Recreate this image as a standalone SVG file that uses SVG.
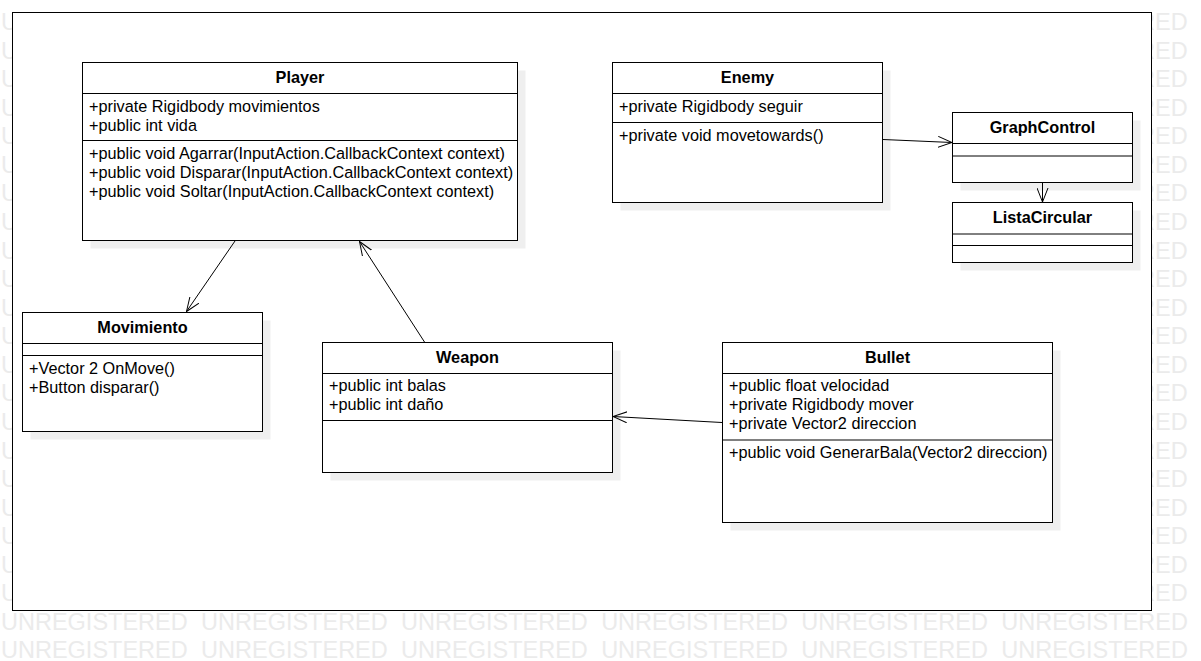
<svg xmlns="http://www.w3.org/2000/svg" width="1201" height="661" viewBox="0 0 1201 661">
<defs>
<style>
.wm{font-family:"Liberation Sans",Arial,sans-serif;font-size:23.5px;fill:#ebebeb;word-spacing:6.8px}
.box{fill:#ffffff;stroke:#000000;stroke-width:1}
.sh{fill:#efefef;stroke:none}
.ln{stroke:#000000;stroke-width:1;fill:none}
.t{font-family:"Liberation Sans",Arial,sans-serif;font-size:16.25px;fill:#000000}
.h{font-family:"Liberation Sans",Arial,sans-serif;font-size:16.25px;font-weight:bold;fill:#000000;text-anchor:middle}
</style>
<marker id="arr" viewBox="0 0 14 12" refX="14" refY="6" markerWidth="14" markerHeight="12" markerUnits="userSpaceOnUse" orient="auto">
<path d="M0,0.5 L14,6 L0,11.5" fill="none" stroke="#000000" stroke-width="1"/>
</marker>
</defs>
<rect x="0" y="0" width="1201" height="661" fill="#ffffff"/>
<g id="watermark">
<text class="wm" x="1" y="30">U</text><text class="wm" x="1138.1" y="30">RED</text>
<text class="wm" x="1" y="58.6">U</text><text class="wm" x="1138.1" y="58.6">RED</text>
<text class="wm" x="1" y="87.1">U</text><text class="wm" x="1138.1" y="87.1">RED</text>
<text class="wm" x="1" y="115.7">U</text><text class="wm" x="1138.1" y="115.7">RED</text>
<text class="wm" x="1" y="144.3">U</text><text class="wm" x="1138.1" y="144.3">RED</text>
<text class="wm" x="1" y="172.9">U</text><text class="wm" x="1138.1" y="172.9">RED</text>
<text class="wm" x="1" y="201.4">U</text><text class="wm" x="1138.1" y="201.4">RED</text>
<text class="wm" x="1" y="230">U</text><text class="wm" x="1138.1" y="230">RED</text>
<text class="wm" x="1" y="258.6">U</text><text class="wm" x="1138.1" y="258.6">RED</text>
<text class="wm" x="1" y="287.1">U</text><text class="wm" x="1138.1" y="287.1">RED</text>
<text class="wm" x="1" y="315.7">U</text><text class="wm" x="1138.1" y="315.7">RED</text>
<text class="wm" x="1" y="344.3">U</text><text class="wm" x="1138.1" y="344.3">RED</text>
<text class="wm" x="1" y="372.9">U</text><text class="wm" x="1138.1" y="372.9">RED</text>
<text class="wm" x="1" y="401.4">U</text><text class="wm" x="1138.1" y="401.4">RED</text>
<text class="wm" x="1" y="430">U</text><text class="wm" x="1138.1" y="430">RED</text>
<text class="wm" x="1" y="458.6">U</text><text class="wm" x="1138.1" y="458.6">RED</text>
<text class="wm" x="1" y="487.1">U</text><text class="wm" x="1138.1" y="487.1">RED</text>
<text class="wm" x="1" y="515.7">U</text><text class="wm" x="1138.1" y="515.7">RED</text>
<text class="wm" x="1" y="544.3">U</text><text class="wm" x="1138.1" y="544.3">RED</text>
<text class="wm" x="1" y="572.9">U</text><text class="wm" x="1138.1" y="572.9">RED</text>
<text class="wm" x="1" y="601.4">U</text><text class="wm" x="1138.1" y="601.4">RED</text>
<text class="wm" x="1" y="630">UNREGISTERED UNREGISTERED UNREGISTERED UNREGISTERED UNREGISTERED UNREGISTERED</text>
<text class="wm" x="1" y="658">UNREGISTERED UNREGISTERED UNREGISTERED UNREGISTERED UNREGISTERED UNREGISTERED</text>
</g>
<rect id="frame" x="12.5" y="12.5" width="1139" height="598" class="box"/>
<g id="Player">
<rect class="sh" x="90.5" y="70.5" width="435" height="178"/>
<rect class="box" x="82.5" y="62.5" width="435" height="178"/>
<line class="ln" x1="82.5" y1="93.5" x2="517.5" y2="93.5"/>
<line class="ln" x1="82.5" y1="140.5" x2="517.5" y2="140.5"/>
<text class="h" x="300" y="82.5">Player</text>
<text class="t" x="89" y="111.5">+private Rigidbody movimientos</text>
<text class="t" x="89" y="130.7">+public int vida</text>
<text class="t" x="89" y="158.8">+public void Agarrar(InputAction.CallbackContext context)</text>
<text class="t" x="89" y="178">+public void Disparar(InputAction.CallbackContext context)</text>
<text class="t" x="89" y="197.2">+public void Soltar(InputAction.CallbackContext context)</text>
</g>
<g id="Enemy">
<rect class="sh" x="620.5" y="70.5" width="270" height="140"/>
<rect class="box" x="612.5" y="62.5" width="270" height="140"/>
<line class="ln" x1="612.5" y1="93.5" x2="882.5" y2="93.5"/>
<line class="ln" x1="612.5" y1="122.5" x2="882.5" y2="122.5"/>
<text class="h" x="747.5" y="82.5">Enemy</text>
<text class="t" x="619" y="112">+private Rigidbody seguir</text>
<text class="t" x="619" y="141">+private void movetowards()</text>
</g>
<g id="GraphControl">
<rect class="sh" x="960.5" y="120.5" width="180" height="70"/>
<rect class="box" x="952.5" y="112.5" width="180" height="70"/>
<line class="ln" x1="952.5" y1="143.5" x2="1132.5" y2="143.5"/>
<line class="ln" x1="952.5" y1="156" x2="1132.5" y2="156"/>
<text class="h" x="1042.5" y="133">GraphControl</text>
</g>
<g id="ListaCircular">
<rect class="sh" x="960.5" y="210.5" width="180" height="60"/>
<rect class="box" x="952.5" y="202.5" width="180" height="60"/>
<line class="ln" x1="952.5" y1="234" x2="1132.5" y2="234"/>
<line class="ln" x1="952.5" y1="245.5" x2="1132.5" y2="245.5"/>
<text class="h" x="1042.5" y="223">ListaCircular</text>
</g>
<g id="Movimiento">
<rect class="sh" x="30.5" y="320.5" width="240" height="119"/>
<rect class="box" x="22.5" y="312.5" width="240" height="119"/>
<line class="ln" x1="22.5" y1="343.5" x2="262.5" y2="343.5"/>
<line class="ln" x1="22.5" y1="355.5" x2="262.5" y2="355.5"/>
<text class="h" x="142.5" y="332.5">Movimiento</text>
<text class="t" x="29" y="374">+Vector 2 OnMove()</text>
<text class="t" x="29" y="393.2">+Button disparar()</text>
</g>
<g id="Weapon">
<rect class="sh" x="330.5" y="350.5" width="290" height="130"/>
<rect class="box" x="322.5" y="342.5" width="290" height="130"/>
<line class="ln" x1="322.5" y1="373.5" x2="612.5" y2="373.5"/>
<line class="ln" x1="322.5" y1="420.5" x2="612.5" y2="420.5"/>
<text class="h" x="467.5" y="362.5">Weapon</text>
<text class="t" x="329" y="391">+public int balas</text>
<text class="t" x="329" y="410.2">+public int daño</text>
</g>
<g id="Bullet">
<rect class="sh" x="730.5" y="350.5" width="330" height="180"/>
<rect class="box" x="722.5" y="342.5" width="330" height="180"/>
<line class="ln" x1="722.5" y1="373.5" x2="1052.5" y2="373.5"/>
<line class="ln" x1="722.5" y1="440" x2="1052.5" y2="440"/>
<text class="h" x="887.5" y="362.5">Bullet</text>
<text class="t" x="729" y="391">+public float velocidad</text>
<text class="t" x="729" y="410.2">+private Rigidbody mover</text>
<text class="t" x="729" y="429.4">+private Vector2 direccion</text>
<text class="t" x="729" y="457.5">+public void GenerarBala(Vector2 direccion)</text>
</g>
<g id="connectors">
<line class="ln" x1="235" y1="241" x2="186.5" y2="311.5" marker-end="url(#arr)"/>
<line class="ln" x1="424.5" y1="342" x2="359.5" y2="241.5" marker-end="url(#arr)"/>
<line class="ln" x1="722" y1="422.5" x2="613" y2="416.5" marker-end="url(#arr)"/>
<line class="ln" x1="883" y1="139.5" x2="952" y2="142.5" marker-end="url(#arr)"/>
<line class="ln" x1="1042.5" y1="183" x2="1042.5" y2="202" marker-end="url(#arr)"/>
</g>
</svg>
